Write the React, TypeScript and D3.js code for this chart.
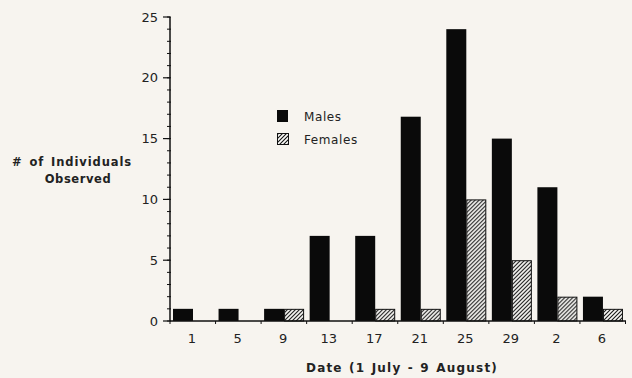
import React, { useEffect } from 'react';
import * as d3 from 'd3';

const dates = ['1', '5', '9', '13', '17', '21', '25', '29', '2', '6'];
const males = [1, 1, 1, 7, 7, 16.8, 24, 15, 11, 2];
const females = [0, 0, 1, 0, 1, 1, 10, 5, 2, 1];
const yTicks = [0, 5, 10, 15, 20, 25];
const seriesNames = ['Males', 'Females'];

const WIDTH = 632;
const HEIGHT = 378;
const FONT = '"DejaVu Sans", sans-serif';

export default function App() {
    useEffect(() => {
        document.body.style.margin = '0';
        document.body.style.background = '#f7f4ef';
    }, []);

    const x = d3.scaleBand().domain(dates).range([170, 625.5]).padding(0);
    const inner = d3.scaleBand().domain(seriesNames).range([3, 43]).padding(0);
    const y = d3.scaleLinear().domain([0, 25]).range([321, 17]);
    const minorTicks = d3.range(0, 26);
    const bw = x.bandwidth();
    const boundaries = dates.map((d) => x(d)!).concat([x(dates[dates.length - 1])! + bw]);

    return (
        <svg width={WIDTH} height={HEIGHT} style={{ display: 'block', background: '#f7f4ef' }}>
            <defs>
                <pattern id="hatch" patternUnits="userSpaceOnUse" width="4" height="4">
                    <rect width="4" height="4" fill="#fcfbf8" />
                    <path d="M-1,1 L1,-1 M0,4 L4,0 M3,5 L5,3" stroke="#111" strokeWidth="1.1" />
                </pattern>
            </defs>

            {/* bars */}
            {dates.map((d, i) => (
                <g key={d} transform={`translate(${x(d)},0)`}>
                    {males[i] > 0 && (
                        <rect
                            x={inner('Males')}
                            y={y(males[i])}
                            width={inner.bandwidth()}
                            height={y(0) - y(males[i])}
                            fill="#0a0a0a"
                        />
                    )}
                    {females[i] > 0 && (
                        <rect
                            x={inner('Females')! + 0.5}
                            y={y(females[i]) + 0.5}
                            width={inner.bandwidth() - 1}
                            height={y(0) - y(females[i]) - 0.5}
                            fill="url(#hatch)"
                            stroke="#111"
                            strokeWidth="1"
                        />
                    )}
                </g>
            ))}

            {/* y axis */}
            <line x1={170} x2={170} y1={y(25)} y2={y(0)} stroke="#111" strokeWidth="1.5" />
            {minorTicks.map((t) => (
                <line key={'m' + t} x1={167} x2={171} y1={y(t)} y2={y(t)} stroke="#111" strokeWidth="1" />
            ))}
            {yTicks.map((t) => (
                <g key={t}>
                    <line x1={163} x2={170} y1={y(t)} y2={y(t)} stroke="#111" strokeWidth="1.2" />
                    <text x={158} y={y(t)} dy="0.35em" textAnchor="end" fontFamily={FONT} fontSize="13" fill="#222">
                        {t}
                    </text>
                </g>
            ))}

            {/* x axis */}
            <line x1={170} x2={626} y1={y(0)} y2={y(0)} stroke="#111" strokeWidth="1.5" />
            {boundaries.map((b, i) => (
                <line key={'b' + i} x1={b} x2={b} y1={y(0)} y2={y(0) + 3} stroke="#111" strokeWidth="1" />
            ))}
            {dates.map((d) => (
                <text key={'l' + d} x={x(d)! + 22} y={343} textAnchor="middle" fontFamily={FONT} fontSize="13" fill="#222">
                    {d}
                </text>
            ))}

            {/* legend */}
            <rect x={277} y={110} width={11} height={12} fill="#0a0a0a" />
            <text x={304} y={121} fontFamily={FONT} fontSize="12" letterSpacing="0.6" fill="#222">Males</text>
            <rect x={277.5} y={133.5} width={11} height={11} fill="url(#hatch)" stroke="#111" strokeWidth="1" />
            <text x={304} y={144} fontFamily={FONT} fontSize="12" letterSpacing="0.6" fill="#222">Females</text>

            {/* axis titles */}
            <text x={72} y={166} textAnchor="middle" fontFamily={FONT} fontSize="11.5" fontWeight="bold" letterSpacing="0.9" wordSpacing="2" fill="#222">
                # of Individuals
            </text>
            <text x={78} y={183} textAnchor="middle" fontFamily={FONT} fontSize="11.5" fontWeight="bold" letterSpacing="0.6" fill="#222">
                Observed
            </text>
            <text x={402} y={372} textAnchor="middle" fontFamily={FONT} fontSize="12" fontWeight="bold" letterSpacing="1.2" wordSpacing="1" fill="#222">
                Date (1 July - 9 August)
            </text>
        </svg>
    );
}
